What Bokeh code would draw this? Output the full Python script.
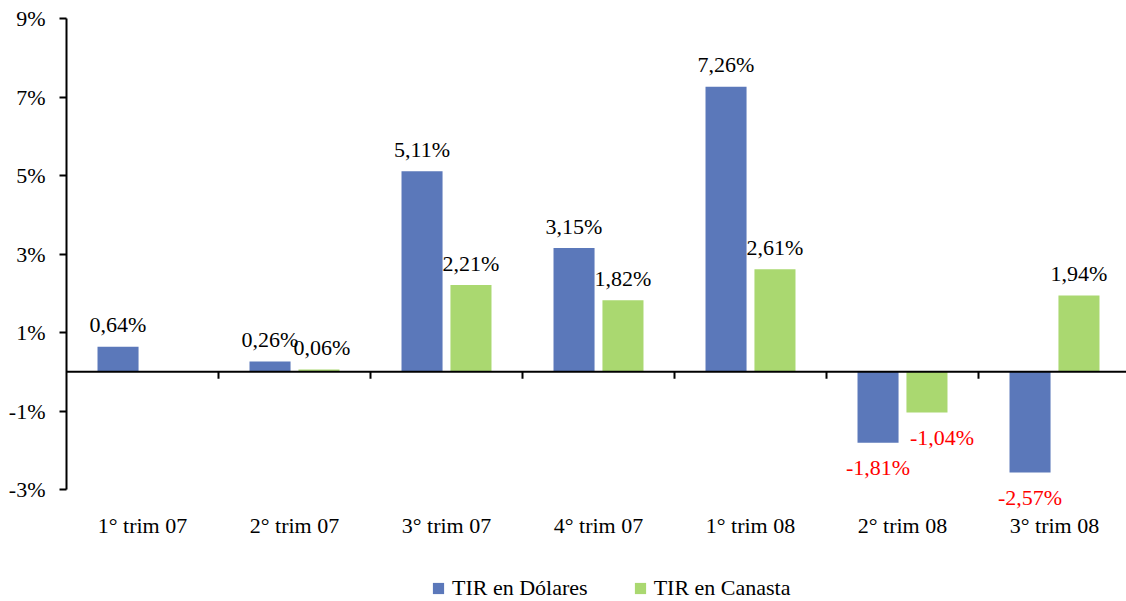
import numpy as np
from bokeh.plotting import figure
from bokeh.models import (Range1d, LinearAxis, FixedTicker, PrintfTickFormatter,
                          Legend, LegendItem, ColumnDataSource, Span)
from bokeh.core.properties import value
from bokeh.embed import file_html
from bokeh.resources import INLINE

categories = ["1° trim 07", "2° trim 07", "3° trim 07", "4° trim 07",
              "1° trim 08", "2° trim 08", "3° trim 08"]
tir_dolares = [0.64, 0.26, 5.11, 3.15, 7.26, -1.81, -2.57]
tir_canasta = [np.nan, 0.06, 2.21, 1.82, 2.61, -1.04, 1.94]
y_ticks = [-3, -1, 1, 3, 5, 7, 9]

FONT = "Liberation Serif"
FS = "22px"
BLUE = "#5B78BA"
GREEN = "#AAD870"

n = len(categories)
idx = np.arange(n)
off = 0.161
bw = 0.27

Y_MIN, Y_MAX = -3, 9
FRAME_W, FRAME_H = 1060, 583
CAT_PX = 152
PX_PER_UNIT = 471 / (Y_MAX - Y_MIN)

p = figure(frame_width=FRAME_W, frame_height=FRAME_H, output_backend="svg",
           toolbar_location=None, x_axis_type=None, y_axis_type=None,
           x_range=Range1d(-0.5, -0.5 + FRAME_W / CAT_PX),
           y_range=Range1d(Y_MAX - FRAME_H / PX_PER_UNIT, Y_MAX),
           min_border_left=66, min_border_top=18, min_border_right=0,
           min_border_bottom=0)
p.outline_line_color = None
p.xgrid.visible = False
p.ygrid.visible = False

r1 = p.vbar(x=idx - off, top=tir_dolares, bottom=0, width=bw,
            fill_color=BLUE, line_color=None)
r2 = p.vbar(x=idx + off, top=tir_canasta, bottom=0, width=bw,
            fill_color=GREEN, line_color=None)

# zero line and category boundary ticks
p.add_layout(Span(location=0, dimension="width", line_color="black", line_width=2))
bounds_x = [i + 0.5 for i in range(n - 1)]
p.segment(x0=bounds_x, y0=[0] * len(bounds_x), x1=bounds_x,
          y1=[-7 / PX_PER_UNIT] * len(bounds_x), line_color="black", line_width=2)

# category labels
p.text(x=idx, y=[Y_MIN] * n, text=categories, y_offset=36,
       text_align="center", text_baseline="middle",
       text_font=value(FONT), text_font_size=FS, text_color="black")

# value labels
def labels(xs, vals, nudge):
    d = dict(x=[], y=[], t=[], c=[], yo=[], xo=[])
    for i, (x, v) in enumerate(zip(xs, vals)):
        if v is None or np.isnan(v):
            continue
        d["x"].append(x)
        d["y"].append(v)
        d["t"].append(f"{v:.2f}%".replace(".", ","))
        d["c"].append("#FF0000" if v < 0 else "#000000")
        d["yo"].append(25 if v < 0 else -22)
        d["xo"].append(nudge.get(i, 0))
    return d

for xs, vals, nudge in ((idx - off, tir_dolares, {}),
                        (idx + off, tir_canasta, {1: 3, 5: 15})):
    src = ColumnDataSource(labels(xs, vals, nudge))
    p.text(x="x", y="y", text="t", source=src, text_color="c",
           y_offset="yo", x_offset="xo",
           text_align="center", text_baseline="middle",
           text_font=value(FONT), text_font_size=FS)

# y axis
yax = LinearAxis(ticker=FixedTicker(ticks=y_ticks),
                 formatter=PrintfTickFormatter(format="%d%%"),
                 bounds=(Y_MIN, Y_MAX))
yax.axis_line_width = 2
yax.major_tick_line_width = 2
yax.major_tick_in = 0
yax.major_tick_out = 7
yax.minor_tick_line_color = None
yax.major_label_standoff = 14
yax.major_label_text_font = FONT
yax.major_label_text_font_size = FS
yax.major_label_text_color = "#000000"
p.add_layout(yax, "left")

legend = Legend(items=[LegendItem(label="TIR en Dólares", renderers=[r1]),
                       LegendItem(label="TIR en Canasta", renderers=[r2])],
                orientation="horizontal", location=(365, 0))
legend.glyph_width = 14
legend.glyph_height = 14
legend.label_height = 14
legend.label_standoff = 7
legend.spacing = 45
legend.label_text_font = FONT
legend.label_text_font_size = FS
legend.label_text_color = "#000000"
legend.border_line_color = None
legend.background_fill_alpha = 0
legend.margin = 0
legend.padding = 0
p.add_layout(legend)

open("out.html", "w").write(file_html(p, INLINE))
